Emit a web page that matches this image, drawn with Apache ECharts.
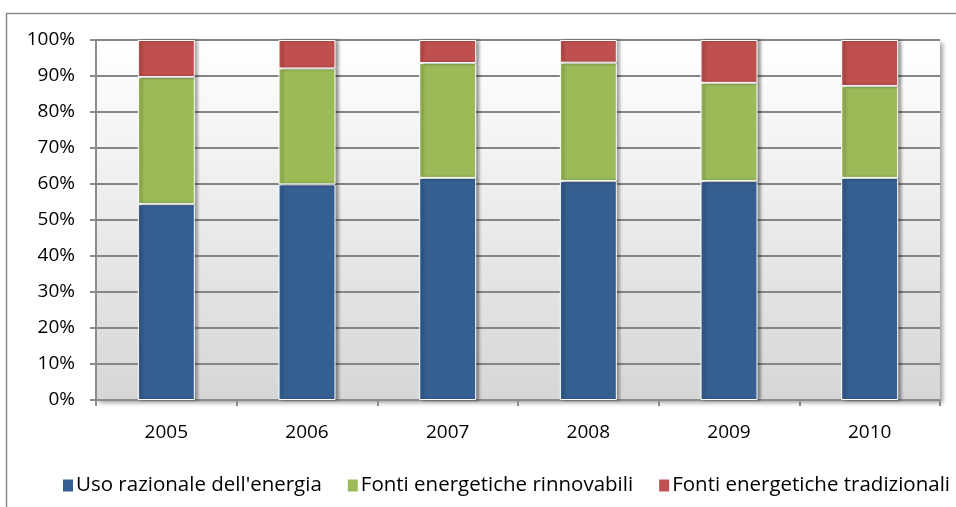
<!DOCTYPE html>
<html>
<head>
<meta charset="utf-8">
<script src="https://cdn.jsdelivr.net/npm/echarts@6/dist/echarts.min.js"></script>
<style>
  html, body { margin: 0; padding: 0; background: #ffffff; }
  #chart { width: 956px; height: 507px; }
</style>
</head>
<body>
<div id="chart"></div>
<script>
// Anni di riferimento
const years = ['2005', '2006', '2007', '2008', '2009', '2010'];

// Quote percentuali per tipologia di intervento (ogni anno somma a 100)
const usoRazionale = [54.4, 59.9, 61.7, 60.8, 60.8, 61.7];
const fontiRinnovabili = [35.3, 32.2, 31.9, 32.9, 27.3, 25.5];
const fontiTradizionali = [10.3, 7.9, 6.4, 6.3, 11.9, 12.8];

// Etichette asse verticale
const yTicks = [0, 10, 20, 30, 40, 50, 60, 70, 80, 90, 100];

const seriesNames = [
  "Uso razionale dell'energia",
  'Fonti energetiche rinnovabili',
  'Fonti energetiche tradizionali'
];
const seriesColors = ['#365F91', '#9BBB59', '#C0504D'];
const seriesData = [usoRazionale, fontiRinnovabili, fontiTradizionali];

const font = '"Open Sans", "Liberation Sans", sans-serif';

const chart = echarts.init(document.getElementById('chart'), null, { renderer: 'canvas' });

chart.setOption({
  animation: false,
  backgroundColor: '#ffffff',
  graphic: [
    {
      type: 'rect',
      shape: { x: 6.5, y: 13.5, width: 980, height: 520 },
      style: { fill: 'none', stroke: '#8c8c8c', lineWidth: 1.5 },
      z: 0
    }
  ],
  grid: {
    left: 96,
    right: 16,
    top: 40,
    bottom: 107,
    show: true,
    borderWidth: 0,
    backgroundColor: {
      type: 'linear', x: 0, y: 0, x2: 0, y2: 1,
      colorStops: [
        { offset: 0, color: '#ffffff' },
        { offset: 1, color: '#d6d6d6' }
      ]
    },
    shadowColor: 'rgba(0,0,0,0.35)',
    shadowBlur: 4,
    shadowOffsetX: 3,
    shadowOffsetY: 3
  },
  legend: {
    bottom: 6,
    left: 56,
    itemWidth: 12,
    itemHeight: 14,
    itemGap: 24,
    icon: 'rect',
    textStyle: { fontFamily: font, fontSize: 20.5, color: '#000000', padding: [0, 0, 0, -3] },
    data: seriesNames
  },
  xAxis: {
    type: 'category',
    data: years,
    axisLine: { show: true, lineStyle: { color: '#8c8c8c', width: 2 } },
    axisTick: { show: true, length: 6, lineStyle: { color: '#8c8c8c', width: 2 } },
    axisLabel: { fontFamily: font, fontSize: 19, color: '#000000', margin: 23 },
    splitLine: { show: false }
  },
  yAxis: {
    type: 'value',
    min: yTicks[0],
    max: yTicks[yTicks.length - 1],
    interval: yTicks[1] - yTicks[0],
    axisLine: { show: true, lineStyle: { color: '#8c8c8c', width: 2 } },
    axisTick: { show: true, length: 6, lineStyle: { color: '#8c8c8c', width: 2 } },
    axisLabel: {
      fontFamily: font, fontSize: 19, color: '#000000', margin: 21,
      formatter: v => v + '%'
    },
    splitLine: { show: true, lineStyle: { color: '#858585', width: 2 } }
  },
  series: seriesNames.map((name, i) => ({
    name: name,
    type: 'bar',
    stack: 'totale',
    barWidth: 57,
    data: seriesData[i],
    itemStyle: {
      color: seriesColors[i],
      borderColor: '#ffffff',
      borderWidth: 1,
      shadowColor: 'rgba(0,0,0,0.4)',
      shadowBlur: 3,
      shadowOffsetX: 3,
      shadowOffsetY: 0
    }
  }))
});
</script>
</body>
</html>
